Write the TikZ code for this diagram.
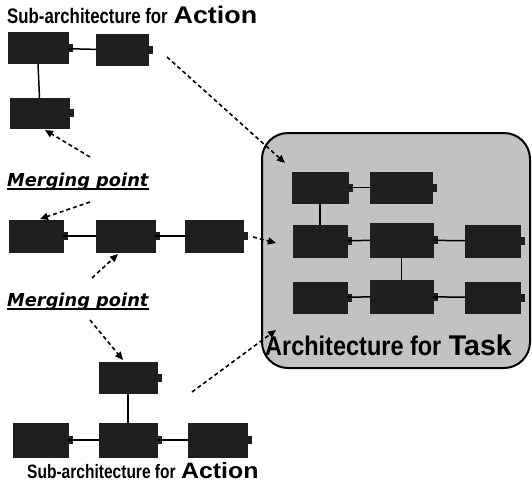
\documentclass[tikz,border=0pt]{standalone}
\usepackage{fontspec}
\setmainfont{Liberation Sans}
\newfontfamily\mergefont{DejaVu Sans}
\usetikzlibrary{arrows.meta}
\definecolor{boxdark}{gray}{0.12}
\definecolor{taskfill}{gray}{0.76}
\tikzset{
  blk/.style={fill=boxdark, draw=boxdark, inner sep=0pt, minimum height=31pt},
  link/.style={line width=1.5pt, draw=black},
  feed/.style={line width=1.6pt, dash pattern=on 4pt off 3pt, -{Triangle[length=8pt,width=7pt]}},
  title/.style={anchor=base west, inner sep=0pt, font=\bfseries},
  mergelabel/.style={anchor=base west, inner sep=0pt, font=\mergefont\bfseries\itshape\fontsize{17.8}{17.8}\selectfont}
}
\newcommand{\subarchtitle}{\fontsize{21}{21}\selectfont\scalebox{0.8}[1]{Sub-architecture for} \fontsize{24}{24}\selectfont\scalebox{1.12}[1]{Action}}
\begin{document}
\begin{tikzpicture}[x=1pt, y=-1pt]
\useasboundingbox (0,0) rectangle (532,485);

% task container
\node[draw=black, line width=2pt, fill=taskfill, rounded corners=26pt, minimum width=268pt, minimum height=235pt, inner sep=0pt] (task) at (396,250.5) {};

% upper action sub-architecture
\node[blk, minimum width=60pt] (a1) at (38,48) {};
\node[blk, minimum width=52pt] (a2) at (122,50) {};
\node[blk, minimum width=59pt, minimum height=30pt] (a3) at (39.5,113) {};

% middle chain
\node[blk, minimum width=54pt, minimum height=32pt] (b1) at (36,236) {};
\node[blk, minimum width=59pt, minimum height=32pt] (b2) at (125.5,236) {};
\node[blk, minimum width=58pt, minimum height=32pt] (b3) at (214,236) {};

% lower action sub-architecture
\node[blk, minimum width=58pt] (c1) at (128,377.5) {};
\node[blk, minimum width=55pt, minimum height=34pt] (c2) at (40.5,440) {};
\node[blk, minimum width=58pt, minimum height=34pt] (c3) at (128,440) {};
\node[blk, minimum width=59pt, minimum height=34pt] (c4) at (217.5,440) {};

% merged task architecture
\node[blk, minimum width=56pt] (t1) at (320,187.5) {};
\node[blk, minimum width=62pt] (t2) at (401,187.5) {};
\node[blk, minimum width=54pt, minimum height=32pt] (t3) at (320,241) {};
\node[blk, minimum width=63pt, minimum height=34pt] (t4) at (401.5,240) {};
\node[blk, minimum width=55pt, minimum height=32pt] (t5) at (492.5,241) {};
\node[blk, minimum width=54pt] (t6) at (320,297.5) {};
\node[blk, minimum width=63pt, minimum height=33pt] (t7) at (401.5,296.5) {};
\node[blk, minimum width=55pt] (t8) at (492.5,297.5) {};

% small output ports on the right side of each block
\foreach \n in {a1,a2,a3,b1,b2,b3,c1,c2,c3,c4,t1,t2,t3,t4,t5,t6,t7,t8}
  \fill[boxdark] ([yshift=-4pt]\n.east) rectangle ++(4.5pt,8pt);

% block connections
\draw[link] (a1) -- (a2);
\draw[link] (a1.south) -- (a3.north);
\draw[link] (b1) -- (b2);
\draw[link] (b2) -- (b3);
\draw[link] (c1.south) -- (c3.north);
\draw[link] (c2) -- (c3);
\draw[link] (c3) -- (c4);
\draw[link] (t1) -- (t2);
\draw[link] (t1.south) -- (t3.north);
\draw[link] (t3) -- (t4);
\draw[link] (t4) -- (t5);
\draw[link] (t4.south) -- (t7.north);
\draw[link] (t6) -- (t7);
\draw[link] (t7) -- (t8);

% labels
\node[title] (toptitle) at (7,23) {\subarchtitle};
\node[title] (bottitle) at (27,478) {\scalebox{0.925}{\subarchtitle}};
\node[title] (tasktitle) at (265,355) {\fontsize{27}{27}\selectfont\scalebox{0.87}[1]{Architecture for} \fontsize{28.5}{28.5}\selectfont Task};
\node[mergelabel] (merge1) at (7,186) {Merging point};
\node[mergelabel] (merge2) at (7,306) {Merging point};
\draw[line width=1.3pt] ([yshift=-3pt]merge1.base west) -- ([yshift=-3pt]merge1.base east);
\draw[line width=1.3pt] ([yshift=-3pt]merge2.base west) -- ([yshift=-3pt]merge2.base east);

% free ends of the dashed feed lines
\coordinate (fa) at (167,57);
\coordinate (ta) at (285,163);
\coordinate (m1up) at (90,157);
\coordinate (m1dn) at (90,202);
\coordinate (m2up) at (92,278);
\coordinate (m2dn) at (90,320);
\coordinate (fb) at (253,237);
\coordinate (tb) at (276,243);
\coordinate (fc) at (192,392);
\coordinate (tc) at (276,330);
\coordinate (a3in) at (45,130);
\coordinate (b1in) at (40,219);
\coordinate (b2in) at (118,254);
\coordinate (c1in) at (123,360);

% dashed feeds
\draw[feed] (fa) -- (ta);
\draw[feed] (m1up) -- (a3in);
\draw[feed] (m1dn) -- (b1in);
\draw[feed] (m2up) -- (b2in);
\draw[feed] (m2dn) -- (c1in);
\draw[feed] (fb) -- (tb);
\draw[feed] (fc) -- (tc);
\end{tikzpicture}
\end{document}
